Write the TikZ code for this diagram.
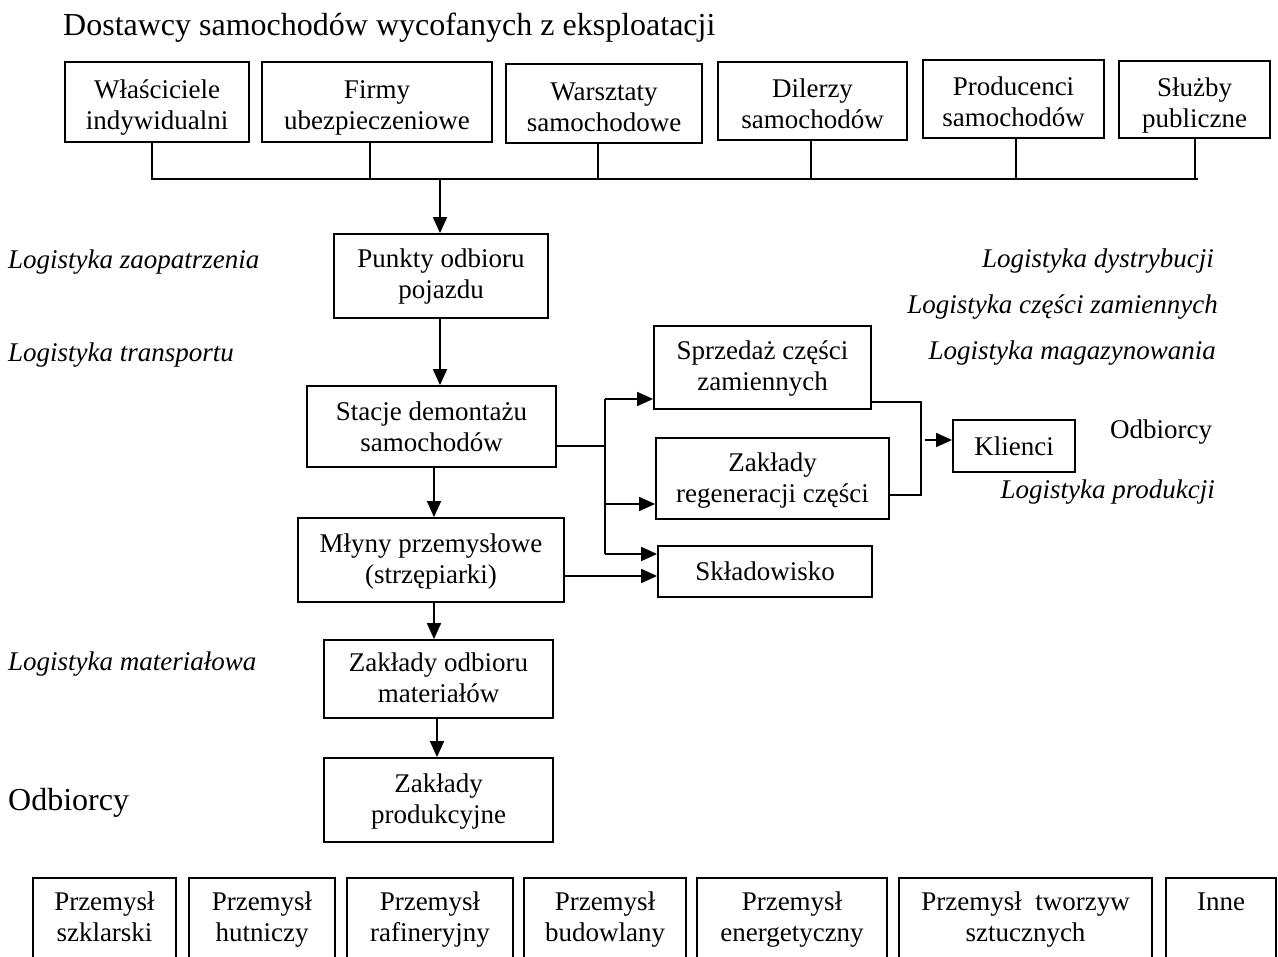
\documentclass[tikz,border=0pt]{standalone}
\usepackage{fontspec}
\setmainfont{Liberation Serif}
\usetikzlibrary{arrows.meta}
\newcommand\myfs{\fontsize{27}{31}\selectfont}
\newcommand\mytitlefs{\fontsize{32}{38}\selectfont}
% two-line box text; optional arg = height of the first-line strut (moves text down)
\newcommand\twol[3][26]{\rule{0pt}{#1pt}#2\\#3\strut}
\tikzset{
  box/.style={draw, line width=1.8pt, inner sep=0pt, align=center, font=\myfs},
  lbl/.style={inner sep=0pt, font=\myfs\itshape},
  plain/.style={inner sep=0pt, font=\myfs},
  big/.style={inner sep=0pt, font=\mytitlefs},
  conn/.style={line width=1.8pt},
  arr/.style={line width=1.8pt, -{Triangle[length=16pt,width=14pt]}}
}
\begin{document}
\begin{tikzpicture}[x=1pt,y=-1pt]
\useasboundingbox (0,0) rectangle (1278,957);
% title
\node[big, anchor=west] (title) at (63,28) {Dostawcy samochodów wycofanych z eksploatacji};
% top boxes
\node[box, minimum width=184pt, minimum height=80pt] (s1) at (157,102) {\twol[34]{Właściciele}{indywidualni}};
\node[box, minimum width=230pt, minimum height=80pt] (s2) at (377,102) {\twol[34]{Firmy}{ubezpieczeniowe}};
\node[box, minimum width=196pt, minimum height=79pt] (s3) at (604,103.5) {\twol[34]{Warsztaty}{samochodowe}};
\node[box, minimum width=189pt, minimum height=78pt] (s4) at (812.5,101) {\twol[34]{Dilerzy}{samochodów}};
\node[box, minimum width=181pt, minimum height=78pt] (s5) at (1013.5,99) {\twol[34]{Producenci}{samochodów}};
\node[box, minimum width=151pt, minimum height=77pt] (s6) at (1194.5,99.5) {\twol[34]{Służby}{publiczne}};
\coordinate (busR) at (1198,179);
\coordinate (busM) at (440,179);
\coordinate (t1) at (152,179);
\coordinate (t2) at (370,179);
\coordinate (t3) at (598,179);
\coordinate (t4) at (811,179);
\coordinate (t5) at (1016,179);
\coordinate (t6) at (1195,179);
\draw[conn] (t1 |- s1.south) -- (t1) -- (busR);
\draw[conn] (t2 |- s2.south) -- (t2);
\draw[conn] (t3 |- s3.south) -- (t3);
\draw[conn] (t4 |- s4.south) -- (t4);
\draw[conn] (t5 |- s5.south) -- (t5);
\draw[conn] (t6 |- s6.south) -- (t6);
% main chain
\node[box, minimum width=214pt, minimum height=84pt] (pu) at (441,276) {\twol[24]{Punkty odbioru}{pojazdu}};
\node[box, minimum width=249pt, minimum height=81pt] (st) at (431.5,426.5) {\twol[29]{Stacje demontażu}{samochodów}};
\node[box, minimum width=266pt, minimum height=84pt] (ml) at (431,560) {\twol{Młyny przemysłowe}{(strzępiarki)}};
\node[box, minimum width=229pt, minimum height=78pt] (zo) at (438.5,679) {\twol{Zakłady odbioru}{materiałów}};
\node[box, minimum width=229pt, minimum height=84pt] (zp) at (438.5,800) {\twol{Zakłady}{produkcyjne}};
\draw[arr] (busM) -- (busM |- pu.north);
\draw[arr] (busM |- pu.south) -- (busM |- st.north);
\coordinate (cx1) at (434,0);
\coordinate (cx2) at (437,0);
\draw[arr] (cx1 |- st.south) -- (cx1 |- ml.north);
\draw[arr] (cx1 |- ml.south) -- (cx1 |- zo.north);
\draw[arr] (cx2 |- zo.south) -- (cx2 |- zp.north);
% right branch
\node[box, minimum width=217pt, minimum height=83pt] (sp) at (762.5,367.5) {\twol[24]{Sprzedaż części}{zamiennych}};
\node[box, minimum width=233pt, minimum height=81pt] (zr) at (772.5,478.5) {\twol[26]{Zakłady}{regeneracji części}};
\node[box, minimum width=214pt, minimum height=51pt] (sk) at (765,571.5) {Składowisko};
\node[box, minimum width=122pt, minimum height=52pt] (kl) at (1014,446) {Klienci};
\coordinate (jA) at (605,446);
\coordinate (jT) at (605,399);
\coordinate (jM) at (605,504);
\coordinate (jB) at (605,554);
\draw[conn] (st.east |- jA) -- (jA);
\draw[conn] (jT) -- (jB);
\draw[arr] (jT) -- (sp.west |- jT);
\draw[arr] (jM) -- (zr.west |- jM);
\draw[arr] (jB) -- (sk.west |- jB);
\coordinate (mk) at (0,576);
\draw[arr] (ml.east |- mk) -- (sk.west |- mk);
\coordinate (kT) at (921,402);
\coordinate (kB) at (921,495);
\coordinate (kM) at (925,440);
\draw[conn] (sp.east |- kT) -- (kT) -- (kB) -- (zr.east |- kB);
\draw[arr] (kM) -- (kl.west |- kM);
% labels
\node[lbl, anchor=west] (l1) at (8,262) {Logistyka zaopatrzenia};
\node[lbl, anchor=west] (l2) at (8,355) {Logistyka transportu};
\node[lbl, anchor=west] (l3) at (8,664) {Logistyka materiałowa};
\node[lbl, anchor=east] (r1) at (1214,261) {Logistyka dystrybucji};
\node[lbl, anchor=east] (r2) at (1218,307) {Logistyka części zamiennych};
\node[lbl, anchor=east] (r3) at (1216,353) {Logistyka magazynowania};
\node[plain, anchor=west] (r4) at (1110,432) {Odbiorcy};
\node[lbl, anchor=east] (r5) at (1215,492) {Logistyka produkcji};
\node[big, anchor=west] (odb) at (8,803) {Odbiorcy};
% bottom boxes (cut off by the lower edge)
\node[box, minimum width=143pt, minimum height=84pt] (b1) at (104.5,920) {\twol[22]{Przemysł}{szklarski}};
\node[box, minimum width=146pt, minimum height=84pt] (b2) at (262,920) {\twol[22]{Przemysł}{hutniczy}};
\node[box, minimum width=166pt, minimum height=84pt] (b3) at (430,920) {\twol[22]{Przemysł}{rafineryjny}};
\node[box, minimum width=162pt, minimum height=84pt] (b4) at (605,920) {\twol[22]{Przemysł}{budowlany}};
\node[box, minimum width=190pt, minimum height=84pt] (b5) at (792,920) {\twol[22]{Przemysł}{energetyczny}};
\node[box, minimum width=253pt, minimum height=84pt] (b6) at (1025.5,920) {\twol[22]{Przemysł\ \ tworzyw}{sztucznych}};
\node[box, minimum width=110pt, minimum height=84pt] (b7) at (1221,920) {\twol[22]{Inne}{\mbox{}}};
\end{tikzpicture}
\end{document}
